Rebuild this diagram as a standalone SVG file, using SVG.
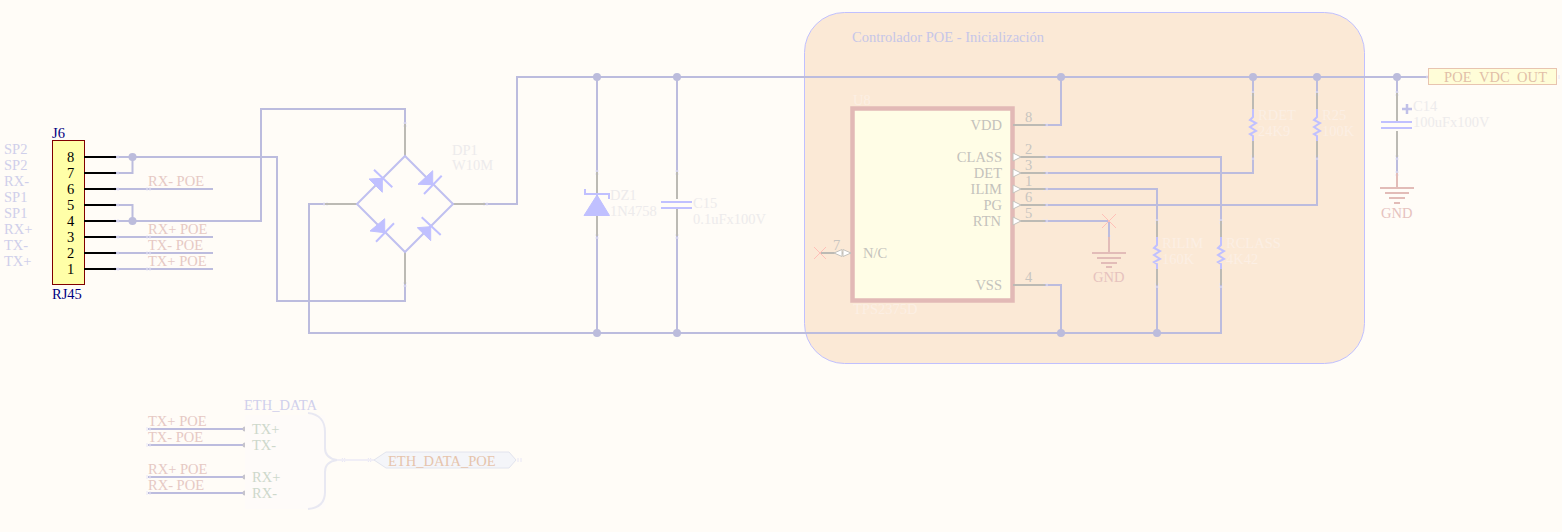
<svg xmlns="http://www.w3.org/2000/svg" width="1562" height="532" viewBox="0 0 1562 532">
<style>
text{font-family:"Liberation Serif","Times New Roman",serif;font-size:14.5px}
.w{fill:none;stroke:#bcbcde;stroke-width:2}
.g{fill:none;stroke:#bcbab4;stroke-width:2}
.k{fill:none;stroke:#000;stroke-width:2}
.p{fill:none;stroke:#e2bcb8;stroke-width:2}
.s{fill:none;stroke:#c0c0ff;stroke-width:2}
.j{fill:#bcbcdc}
.net{fill:#e6c9c4}
.side{fill:#cfcfea}
.faint{fill:#edebec}
.faint2{fill:#fcefe4}
.pin{fill:#c8c5c0}
.nm{fill:#c4c2bc}
.tick{stroke:#e8e6f6;stroke-width:1;fill:none}
.arrow{fill:#fff;stroke:#c4c2bc;stroke-width:1}
.nc{stroke:#ffc0b8;stroke-width:1;fill:none}
.gnd{fill:#e6c2be}
</style>
<defs><clipPath id="portclip"><rect x="1429" y="69" width="127" height="14"/></clipPath></defs>
<rect width="1562" height="532" fill="#fffcf7"/>

<g id="poe-sheet"><rect x="804.500" y="12.500" width="560" height="351" rx="40" fill="#fbe9d6" stroke="#c0c0ff" stroke-width="1"/>
<text x="852" y="42" style="fill:#c6c6e8">Controlador POE - Inicialización</text></g>

<g id="connectors">
<path class="w" d="M116 157H277V301H405V284M116 173H132.500V157M116 189H213M116 205H132.500V221M116 221H261V109H405V124M116 237H213M116 253H213M116 269H213"/>
<path class="w" d="M325 204H309V333H1221V285M485 204H517V77H1429M597 77V172M597 236V333M677 77V172M677 236V333"/>
<path class="w" d="M1045 125H1061V77M1045 157H1221V221M1045 173H1253V157M1045 189H1157V221M1045 205H1317V157M1045 221H1109V237M1045 285H1061V333M1157 285V333M1253 77V93M1317 77V93M1397 77V93M1397 157V173"/>
<path class="w" d="M148 429H245M148 445H245M148 477H245M148 493H245"/>
<g class="j"><circle cx="132.500" cy="157" r="4"/><circle cx="132.500" cy="221" r="4"/><circle cx="597" cy="77" r="4"/><circle cx="677" cy="77" r="4"/><circle cx="1061" cy="77" r="4"/><circle cx="1253" cy="77" r="4"/><circle cx="1317" cy="77" r="4"/><circle cx="1397" cy="77" r="4"/><circle cx="597" cy="333" r="4"/><circle cx="677" cy="333" r="4"/><circle cx="1061" cy="333" r="4"/><circle cx="1157" cy="333" r="4"/></g>
<g fill="#c6c4cc"><circle cx="245" cy="429" r="2.500"/><circle cx="245" cy="445" r="2.500"/><circle cx="245" cy="477" r="2.500"/><circle cx="245" cy="493" r="2.500"/></g>
<path class="tick" d="M115 155v4M118 155v4M115 171v4M118 171v4M115 187v4M118 187v4M115 203v4M118 203v4M115 219v4M118 219v4M115 235v4M118 235v4M115 251v4M118 251v4M115 267v4M118 267v4M147 187v4M150 187v4M147 235v4M150 235v4M147 251v4M150 251v4M147 267v4M150 267v4M147 427v4M150 427v4M147 443v4M150 443v4M147 475v4M150 475v4M147 491v4M150 491v4M403 123h4M403 126h4M403 283h4M403 286h4M324 202v4M327 202v4M484 202v4M487 202v4M595 171h4M595 174h4M595 235h4M595 238h4M675 171h4M675 174h4M675 235h4M675 238h4M1044 123v4M1047 123v4M1044 155v4M1047 155v4M1044 171v4M1047 171v4M1044 187v4M1047 187v4M1044 203v4M1047 203v4M1044 219v4M1047 219v4M1044 283v4M1047 283v4M1251 92h4M1251 95h4M1251 156h4M1251 159h4M1315 92h4M1315 95h4M1315 156h4M1315 159h4M1155 220h4M1155 223h4M1155 284h4M1155 287h4M1219 220h4M1219 223h4M1219 284h4M1219 287h4M1107 236h4M1107 239h4M1395 92h4M1395 95h4M1395 156h4M1395 159h4M1395 172h4M1395 175h4M1427 75v4M1430 75v4M1556 75v4M1559 75v4M518 458v4M521 458v4M342 458l3 4M345 458l-3 4M368 458l3 4M371 458l-3 4"/>
</g>

<g id="J6">
<rect x="52.500" y="140.500" width="32" height="144" fill="#ffffa8" stroke="#800000" stroke-width="1"/>
<path class="k" d="M84 157H116M84 173H116M84 189H116M84 205H116M84 221H116M84 237H116M84 253H116M84 269H116"/>
<text x="52" y="138" fill="#000080">J6</text><text x="52" y="299" fill="#000080">RJ45</text>
<g fill="#000"><text x="67" y="162">8</text><text x="67" y="178">7</text><text x="67" y="194">6</text><text x="67" y="210">5</text><text x="67" y="226">4</text><text x="67" y="242">3</text><text x="67" y="258">2</text><text x="67" y="274">1</text></g>
<g class="side"><text x="4" y="154">SP2</text><text x="4" y="170">SP2</text><text x="4" y="186">RX-</text><text x="4" y="202">SP1</text><text x="4" y="218">SP1</text><text x="4" y="234">RX+</text><text x="4" y="250">TX-</text><text x="4" y="266">TX+</text></g>
<g class="net"><text x="148" y="186">RX- POE</text><text x="148" y="234">RX+ POE</text><text x="148" y="250">TX- POE</text><text x="148" y="266">TX+ POE</text></g>
</g>

<g id="DP1">
<path class="g" d="M405 124V156M405 252V284M325 204H357M453 204H485"/>
<path d="M405 156L453 204L405 252L357 204Z" fill="none" stroke="#c0c0f0" stroke-width="2"/>
<g fill="#c0c0ff" stroke="#c0c0ff" stroke-width="1">
<path d="M369 179L382.300 178.300V192.300Z"/><path d="M418 184.300L432.700 170.700V184.700Z"/><path d="M370 231L384.700 218.700V232.700Z"/><path d="M417.300 227.700L430.700 226.700V240.700Z"/>
</g>
<path d="M374 169.700L392.300 187.300M424 194L441.700 175.700M376 241.700L394 223.300M421.700 217.300L440.700 235" fill="none" stroke="#c0c0ff" stroke-width="2"/>
<text class="faint" x="452" y="155">DP1</text><text class="faint" x="452" y="170">W10M</text>
</g>

<g id="DZ1">
<path class="g" d="M597 172V236"/>
<path d="M584 215.500L597 195L609.500 215.500Z" fill="#c0c0ff" stroke="#c0c0ff"/>
<path d="M585 189V194H609V199" fill="none" stroke="#c0c0ff" stroke-width="2"/>
<text class="faint" x="610" y="200">DZ1</text><text class="faint" x="610" y="216">1N4758</text>
</g>

<g id="C15">
<path class="g" d="M677 172V199M677 209V236"/>
<path class="s" d="M661 202H692M661 208H692"/>
<text class="faint" x="693" y="208">C15</text><text class="faint" x="693" y="224">0.1uFx100V</text>
</g>

<g id="U8">
<rect x="852.500" y="108.500" width="160" height="192" fill="#fffde6" stroke="#e2b9b6" stroke-width="4.500"/>
<path class="g" d="M1013 125H1045M1013 157H1045M1013 173H1045M1013 189H1045M1013 205H1045M1013 221H1045M1013 285H1045M820 253H851"/>
<g class="arrow"><path d="M1013 153L1021 157L1013 161Z"/><path d="M1013 169L1021 173L1013 177Z"/><path d="M1013 185L1021 189L1013 193Z"/><path d="M1013 201L1021 205L1013 209Z"/><path d="M1013 217L1021 221L1013 225Z"/><path d="M843 249.500L851 253L843 256.500Z"/><path d="M842 249.500L834 253L842 256.500Z"/></g>
<path class="nc" d="M814 247L826 259M826 247L814 259"/>
<g class="nm" text-anchor="end"><text x="1002" y="130">VDD</text><text x="1002" y="162">CLASS</text><text x="1002" y="178">DET</text><text x="1002" y="194">ILIM</text><text x="1002" y="210">PG</text><text x="1001" y="226">RTN</text><text x="1002" y="290">VSS</text></g>
<text class="nm" x="863" y="258">N/C</text>
<g class="pin"><text x="1025" y="122">8</text><text x="1025" y="154">2</text><text x="1025" y="170">3</text><text x="1025" y="186">1</text><text x="1025" y="202">6</text><text x="1025" y="218">5</text><text x="1025" y="282">4</text><text x="833" y="250">7</text></g>
<text class="faint2" x="853" y="105">U8</text><text class="faint2" x="853" y="314">TPS2375D</text>
</g>

<g id="RDET"><path class="g" d="M1253 93V109M1253 141V157"/><path class="s" d="M1253 109V117L1250 120L1256 123L1250 127L1256 131L1250 134L1253 136V141"/><text class="faint2" x="1258" y="120">RDET</text><text class="faint2" x="1258" y="136">24K9</text></g>
<g id="R25"><path class="g" d="M1317 93V109M1317 141V157"/><path class="s" d="M1317 109V117L1314 120L1320 123L1314 127L1320 131L1314 134L1317 136V141"/><text class="faint2" x="1322" y="120">R25</text><text class="faint2" x="1322" y="136">100K</text></g>
<g id="RILIM"><path class="g" d="M1157 221V237M1157 269V285"/><path class="s" d="M1157 237V245L1154 248L1160 251L1154 255L1160 259L1154 262L1157 264V269"/><text class="faint2" x="1162" y="248">RILIM</text><text class="faint2" x="1162" y="264">160K</text></g>
<g id="RCLASS"><path class="g" d="M1221 221V237M1221 269V285"/><path class="s" d="M1221 237V245L1218 248L1224 251L1218 255L1224 259L1218 262L1221 264V269"/><text class="faint2" x="1226" y="248">RCLASS</text><text class="faint2" x="1226" y="264">4K42</text></g>

<g id="GND1">
<path class="p" d="M1109 237V253M1092 253H1126M1097 258H1121M1101 263H1117M1106 267H1112"/>
<path class="w" d="M1109 221V237"/>
<path class="nc" d="M1102 214L1116 228M1116 214L1102 228"/>
<text class="gnd" x="1093" y="282">GND</text>
</g>

<g id="C14">
<path class="g" d="M1397 93V121M1397 131V157"/>
<path class="s" d="M1381 122H1412M1381 128H1412"/><path d="M1402 109H1412M1407 104V114" fill="none" stroke="#c0c0e8" stroke-width="2.500"/>
<text class="faint" x="1413" y="111">C14</text><text class="faint" x="1413" y="127">100uFx100V</text>
</g>

<g id="GND2">
<path class="p" d="M1397 173V188M1380 188H1414M1385 193H1409M1389 198H1405M1394 203H1400"/>
<text class="gnd" x="1381" y="218">GND</text>
</g>

<g id="POE_VDC_OUT">
<rect x="1428.500" y="68.500" width="128" height="16" fill="#fffdd8"/>
<text x="1444" y="82" fill="#e2bfa8" textLength="103" clip-path="url(#portclip)">POE_VDC_OUT</text>
<rect x="1428.500" y="68.500" width="128" height="16" fill="none" stroke="#e8c4b0" stroke-width="1"/>
</g>

<g id="ETH_DATA">
<rect x="245" y="415" width="80" height="94" fill="#fefbf9"/>
<path d="M308 413C320 414 325 422 325 432V448C325 456 330 459 337 460C330 461 325 464 325 472V492C325 502 320 508 308 509" fill="none" stroke="#e8e8f2" stroke-width="2"/>
<text x="244" y="410" fill="#d0d0ec">ETH_DATA</text>
<g fill="#cdd8cb"><text x="252" y="434">TX+</text><text x="252" y="450">TX-</text><text x="252" y="482">RX+</text><text x="252" y="498">RX-</text></g>
<g class="net"><text x="148" y="426">TX+ POE</text><text x="148" y="442">TX- POE</text><text x="148" y="474">RX+ POE</text><text x="148" y="490">RX- POE</text></g>
</g>

<g id="ETH_DATA_POE">
<path d="M337 460H374" stroke="#f0eef6" stroke-width="2" fill="none"/>
<path d="M374 460L386 452H509L516 460L509 468H386Z" fill="#f4f5f9" stroke="#e2e4ee" stroke-width="1"/>
<text x="388" y="466" fill="#e6c4ac">ETH_DATA_POE</text>
</g>
</svg>
